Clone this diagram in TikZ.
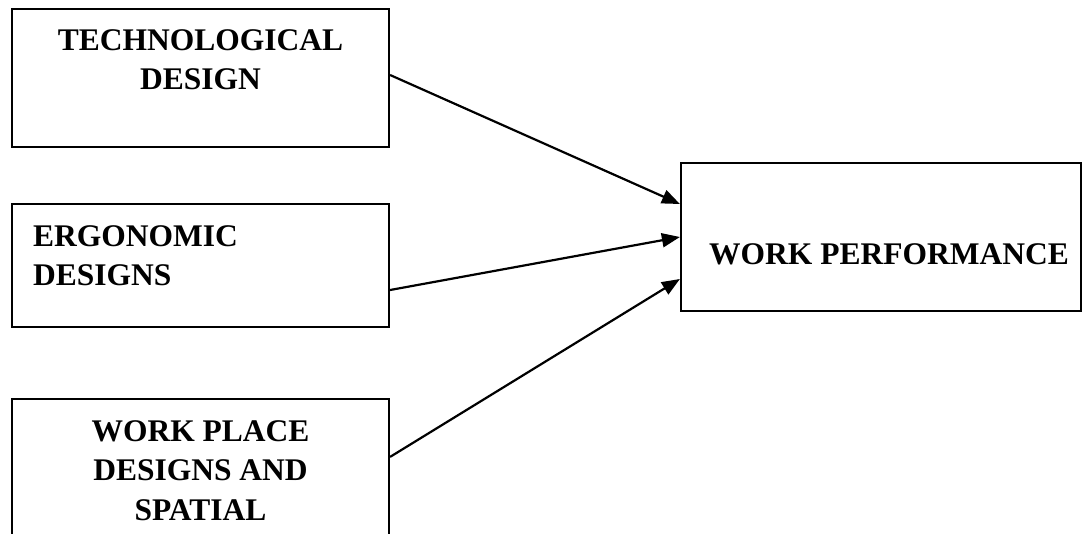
\documentclass[tikz,border=0pt]{standalone}
\usepackage{fontspec}
\setmainfont{Liberation Serif}
\usetikzlibrary{arrows.meta}
\tikzset{
  box/.style={draw, line width=2.2pt, rectangle, inner sep=0pt},
  lbl/.style={inner sep=0pt, font=\fontsize{31.5}{39.5}\selectfont\bfseries},
  conn/.style={line width=2.2pt, -{Triangle[length=18pt,width=14pt]}}
}
\begin{document}
\begin{tikzpicture}[x=1pt,y=-1pt]
\useasboundingbox (0,0) rectangle (1082,533);
\clip (0,0) rectangle (1082,533);
% boxes
\node[box, minimum width=377pt, minimum height=138pt] (b1) at (200.5,78) {};
\node[box, minimum width=377pt, minimum height=123pt] (b2) at (200.5,265.5) {};
\node[box, minimum width=377pt, minimum height=160pt] (b3) at (200.5,479) {};
\node[box, minimum width=400pt, minimum height=148pt] (b4) at (881,237) {};
% labels
\node[lbl, align=center, anchor=north] (t1) at (200.5,29) {TECHNOLOGICAL\\DESIGN};
\node[lbl, align=left, anchor=north west] (t2) at (33,225) {ERGONOMIC\\DESIGNS};
\node[lbl, align=center, anchor=north] (t3) at (200.5,420) {WORK PLACE\\DESIGNS AND\\SPATIAL};
\node[lbl, anchor=base west] (t4) at (709,264) {WORK PERFORMANCE};
% connectors
\draw[conn] ([yshift=3pt]b1.east) -- ([yshift=33pt]b4.west);
\draw[conn] ([yshift=-24.5pt]b2.east) -- (b4.west);
\draw[conn] ([yshift=-59pt]b3.north east) -- ([yshift=-42pt]b4.west);
\end{tikzpicture}
\end{document}
